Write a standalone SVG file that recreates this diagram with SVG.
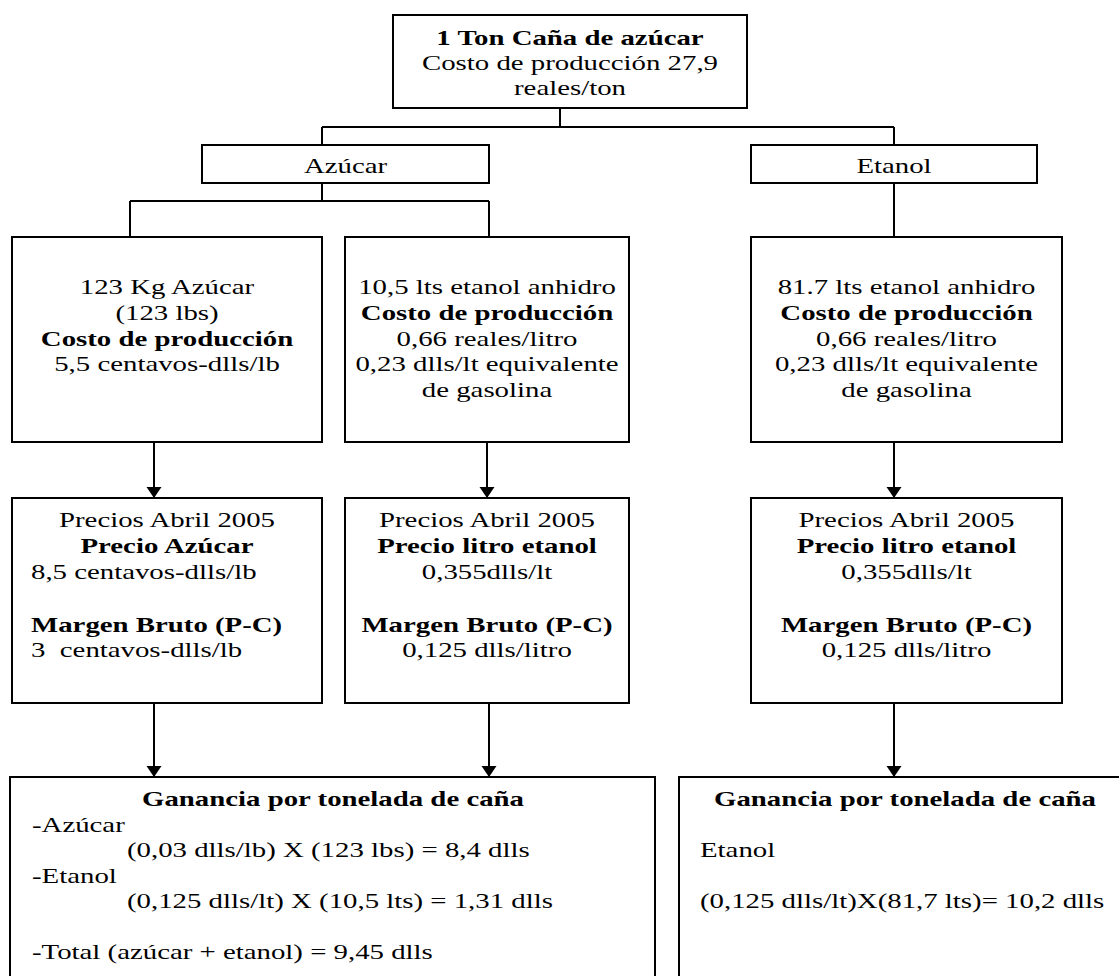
<svg xmlns="http://www.w3.org/2000/svg" width="1119" height="976" viewBox="0 0 1119 976">
<style>
.box{fill:#fff;stroke:#000;stroke-width:2}
.ln{fill:none;stroke:#000;stroke-width:2}
.ar{fill:none;stroke:#000;stroke-width:2;marker-end:url(#ah)}
text{font-family:"Liberation Serif","Times New Roman",serif;font-size:22px;fill:#000}
.c{text-anchor:middle}
.b{font-weight:bold}
</style>
<defs>
<marker id="ah" markerUnits="userSpaceOnUse" markerWidth="12" markerHeight="16" refX="11" refY="7.5" orient="auto">
<path d="M0,0 L11,7.5 L0,15 z" fill="#000"/>
</marker>
</defs>
<rect width="1119" height="976" fill="#fff"/>
<g id="connectors">
<path class="ln" d="M560 108 V127 M322 127 H894 M322 127 V145 M894 127 V145"/>
<path class="ln" d="M322 183 V201 M130 201 H489 M130 201 V237 M489 201 V237"/>
<path class="ln" d="M894 183 V237"/>
<path class="ar" d="M154 442 V498"/>
<path class="ar" d="M487 442 V498"/>
<path class="ar" d="M894 442 V498"/>
<path class="ar" d="M154 703 V777"/>
<path class="ar" d="M489 703 V777"/>
<path class="ar" d="M894 703 V777"/>
</g>
<g id="top">
<rect class="box" x="393" y="15" width="354" height="93"/>
<text class="c b" transform="translate(570 45) scale(1.31 1)">1 Ton Caña de azúcar</text>
<text class="c" transform="translate(570 70) scale(1.31 1)">Costo de producción 27,9</text>
<text class="c" transform="translate(570 95) scale(1.31 1)">reales/ton</text>
</g>
<g id="azucar">
<rect class="box" x="202" y="145" width="287" height="38"/>
<text class="c" transform="translate(345.5 173) scale(1.31 1)">Azúcar</text>
</g>
<g id="etanol">
<rect class="box" x="751" y="145" width="286" height="38"/>
<text class="c" transform="translate(894 173) scale(1.31 1)">Etanol</text>
</g>
<g id="azucar-prod">
<rect class="box" x="12" y="237" width="310" height="205"/>
<text class="c" transform="translate(167 294) scale(1.31 1)">123 Kg Azúcar</text>
<text class="c" transform="translate(167 320) scale(1.31 1)">(123 lbs)</text>
<text class="c b" transform="translate(167 345.5) scale(1.31 1)">Costo de producción</text>
<text class="c" transform="translate(167 371) scale(1.31 1)">5,5 centavos-dlls/lb</text>
</g>
<g id="etanol-prod-a">
<rect class="box" x="345" y="237" width="284" height="205"/>
<text class="c" transform="translate(487 294) scale(1.31 1)">10,5 lts etanol anhidro</text>
<text class="c b" transform="translate(487 320) scale(1.31 1)">Costo de producción</text>
<text class="c" transform="translate(487 345.5) scale(1.31 1)">0,66 reales/litro</text>
<text class="c" transform="translate(487 371) scale(1.31 1)">0,23 dlls/lt equivalente</text>
<text class="c" transform="translate(487 397) scale(1.31 1)">de gasolina</text>
</g>
<g id="etanol-prod-b">
<rect class="box" x="751" y="237" width="311" height="205"/>
<text class="c" transform="translate(906.5 294) scale(1.31 1)">81.7 lts etanol anhidro</text>
<text class="c b" transform="translate(906.5 320) scale(1.31 1)">Costo de producción</text>
<text class="c" transform="translate(906.5 345.5) scale(1.31 1)">0,66 reales/litro</text>
<text class="c" transform="translate(906.5 371) scale(1.31 1)">0,23 dlls/lt equivalente</text>
<text class="c" transform="translate(906.5 397) scale(1.31 1)">de gasolina</text>
</g>
<g id="precio-azucar">
<rect class="box" x="12" y="498" width="310" height="205"/>
<text class="c" transform="translate(167 527) scale(1.31 1)">Precios Abril 2005</text>
<text class="c b" transform="translate(167 553) scale(1.31 1)">Precio Azúcar</text>
<text transform="translate(31 579) scale(1.31 1)">8,5 centavos-dlls/lb</text>
<text class="b" transform="translate(31 632) scale(1.31 1)">Margen Bruto (P-C)</text>
<text transform="translate(31 657) scale(1.31 1)">3&#160; centavos-dlls/lb</text>
</g>
<g id="precio-etanol-a">
<rect class="box" x="345" y="498" width="284" height="205"/>
<text class="c" transform="translate(487 527) scale(1.31 1)">Precios Abril 2005</text>
<text class="c b" transform="translate(487 553) scale(1.31 1)">Precio litro etanol</text>
<text class="c" transform="translate(487 579) scale(1.31 1)">0,355dlls/lt</text>
<text class="c b" transform="translate(487 632) scale(1.31 1)">Margen Bruto (P-C)</text>
<text class="c" transform="translate(487 657) scale(1.31 1)">0,125 dlls/litro</text>
</g>
<g id="precio-etanol-b">
<rect class="box" x="751" y="498" width="311" height="205"/>
<text class="c" transform="translate(906.5 527) scale(1.31 1)">Precios Abril 2005</text>
<text class="c b" transform="translate(906.5 553) scale(1.31 1)">Precio litro etanol</text>
<text class="c" transform="translate(906.5 579) scale(1.31 1)">0,355dlls/lt</text>
<text class="c b" transform="translate(906.5 632) scale(1.31 1)">Margen Bruto (P-C)</text>
<text class="c" transform="translate(906.5 657) scale(1.31 1)">0,125 dlls/litro</text>
</g>
<g id="ganancia-a">
<rect class="box" x="10" y="777" width="645" height="220"/>
<text class="c b" transform="translate(333 806) scale(1.31 1)">Ganancia por tonelada de caña</text>
<text transform="translate(32 831.5) scale(1.31 1)">-Azúcar</text>
<text transform="translate(127 857) scale(1.31 1)">(0,03 dlls/lb) X (123 lbs) = 8,4 dlls</text>
<text transform="translate(32 882.5) scale(1.31 1)">-Etanol</text>
<text transform="translate(127 908) scale(1.31 1)">(0,125 dlls/lt) X (10,5 lts) = 1,31 dlls</text>
<text transform="translate(32 959) scale(1.31 1)">-Total (azúcar + etanol) = 9,45 dlls</text>
</g>
<g id="ganancia-b">
<rect class="box" x="679" y="777" width="460" height="220"/>
<text class="c b" transform="translate(905 806) scale(1.31 1)">Ganancia por tonelada de caña</text>
<text transform="translate(700 857) scale(1.31 1)">Etanol</text>
<text transform="translate(700 908) scale(1.31 1)">(0,125 dlls/lt)X(81,7 lts)= 10,2 dlls</text>
</g>
</svg>
